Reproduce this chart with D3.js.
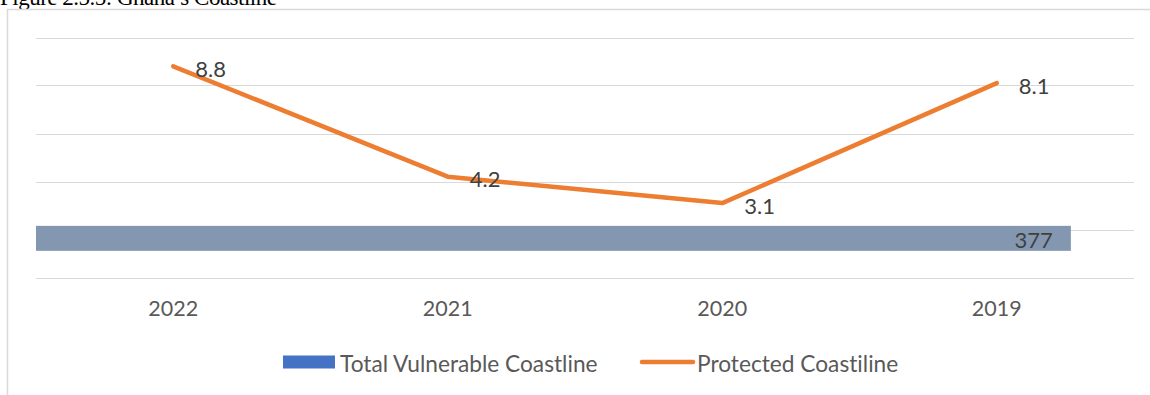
<!DOCTYPE html>
<html>
<head>
<meta charset="utf-8">
<script src="https://cdn.jsdelivr.net/npm/d3@7"></script>
<style>
  html, body { margin: 0; padding: 0; background: #fff; }
  svg { display: block; }
  text { font-variant-ligatures: none; font-feature-settings: "liga" 0; }
</style>
</head>
<body>
<svg id="chart" width="1150" height="395"></svg>
<script>
// Ghana's coastline: protected length per year (km) and total vulnerable length (km)
const years = ["2022", "2021", "2020", "2019"];
const protectedCoastline = [8.8, 4.2, 3.1, 8.1];
const vulnerableCategory = ["Total"];
const totalVulnerable = [377];
const yTicks = [0, 2, 4, 6, 8, 10];
const seriesNames = ["Total Vulnerable Coastline", "Protected Coastiline"];
const titleText = "Figure 2.5.5: Ghana\u2019s Coastline";

const W = 1150, H = 395;
const plot = { left: 36, right: 1134, top: 37.5, bottom: 277.5 };
const labelFont = "Lato, 'Open Sans', sans-serif";

const svg = d3.select("#chart");

// Figure caption (partly above the page edge)
svg.append("text")
  .attr("x", 0).attr("y", 5)
  .attr("font-family", "'Liberation Serif', 'Times New Roman', serif")
  .attr("font-size", 23)
  .attr("letter-spacing", -0.5)
  .attr("fill", "#000")
  .text(titleText);

// Chart area frame
svg.append("path")
  .attr("d", `M7.5,${H} V9.5 H${W}`)
  .attr("fill", "none")
  .attr("stroke", "#d9d9d9")
  .attr("stroke-width", 1.5);

// Scales
const x = d3.scaleBand().domain(years).range([plot.left, plot.right]);
const y = d3.scaleLinear().domain([0, 10]).range([plot.bottom, plot.top]);
const xBar = d3.scaleLinear().domain([0, 400]).range([plot.left, plot.right]);
const yBar = d3.scaleBand().domain(vulnerableCategory)
  .range([plot.top, plot.bottom])
  .paddingInner(0).paddingOuter(4.3).align(0.876);

// Horizontal gridlines
svg.append("g")
  .selectAll("line")
  .data(yTicks)
  .join("line")
  .attr("x1", plot.left).attr("x2", plot.right)
  .attr("y1", d => Math.round(y(d)) + 0.5)
  .attr("y2", d => Math.round(y(d)) + 0.5)
  .attr("stroke", "#d9d9d9")
  .attr("stroke-width", 1.2);

// Category axis labels
const xAxis = d3.axisBottom(x).tickSize(0).tickPadding(0);
const gx = svg.append("g")
  .attr("transform", `translate(0,${plot.bottom + 38})`)
  .call(xAxis);
gx.select(".domain").remove();
gx.selectAll("text")
  .attr("dy", 0)
  .attr("font-family", labelFont)
  .attr("font-size", 21.5)
  .attr("fill", "#595959");

// Total vulnerable coastline bar
const barData = vulnerableCategory.map((c, i) => ({ c, v: totalVulnerable[i] }));
svg.append("g")
  .selectAll("rect")
  .data(barData)
  .join("rect")
  .attr("x", xBar(0))
  .attr("y", d => yBar(d.c))
  .attr("width", d => xBar(d.v) - xBar(0))
  .attr("height", yBar.bandwidth())
  .attr("fill", "#8497b0");

svg.append("g")
  .selectAll("text")
  .data(barData)
  .join("text")
  .attr("x", d => xBar(d.v) - 18)
  .attr("y", d => yBar(d.c) + yBar.bandwidth() / 2 + 1)
  .attr("text-anchor", "end")
  .attr("dominant-baseline", "central")
  .attr("font-family", labelFont)
  .attr("font-size", 22)
  .attr("fill", "#404040")
  .text(d => d.v);

// Protected coastline line
const lineData = years.map((yr, i) => ({ yr, v: protectedCoastline[i] }));
const line = d3.line()
  .x(d => x(d.yr) + x.bandwidth() / 2)
  .y(d => y(d.v));

svg.append("path")
  .datum(lineData)
  .attr("d", line)
  .attr("fill", "none")
  .attr("stroke", "#ed7d31")
  .attr("stroke-width", 4.5)
  .attr("stroke-linecap", "round")
  .attr("stroke-linejoin", "round");

svg.append("g")
  .selectAll("text")
  .data(lineData)
  .join("text")
  .attr("x", d => x(d.yr) + x.bandwidth() / 2 + 22)
  .attr("y", d => y(d.v) + 2)
  .attr("dominant-baseline", "central")
  .attr("font-family", labelFont)
  .attr("font-size", 22)
  .attr("fill", "#404040")
  .text(d => d.v);

// Legend
const legend = svg.append("g").attr("transform", "translate(283,362)");
const item0 = legend.append("g");
item0.append("rect")
  .attr("x", 0).attr("y", -6.5)
  .attr("width", 52).attr("height", 13)
  .attr("fill", "#4472c4");
item0.append("text")
  .attr("x", 57).attr("y", 1)
  .attr("dominant-baseline", "central")
  .attr("font-family", labelFont)
  .attr("font-size", 22.7)
  .attr("fill", "#595959")
  .text(seriesNames[0]);

const item1 = legend.append("g").attr("transform", "translate(357,0)");
item1.append("line")
  .attr("x1", 2).attr("x2", 53)
  .attr("y1", 0).attr("y2", 0)
  .attr("stroke", "#ed7d31")
  .attr("stroke-width", 4.5)
  .attr("stroke-linecap", "round");
item1.append("text")
  .attr("x", 57).attr("y", 1)
  .attr("dominant-baseline", "central")
  .attr("font-family", labelFont)
  .attr("font-size", 22.7)
  .attr("fill", "#595959")
  .text(seriesNames[1]);
</script>
</body>
</html>
